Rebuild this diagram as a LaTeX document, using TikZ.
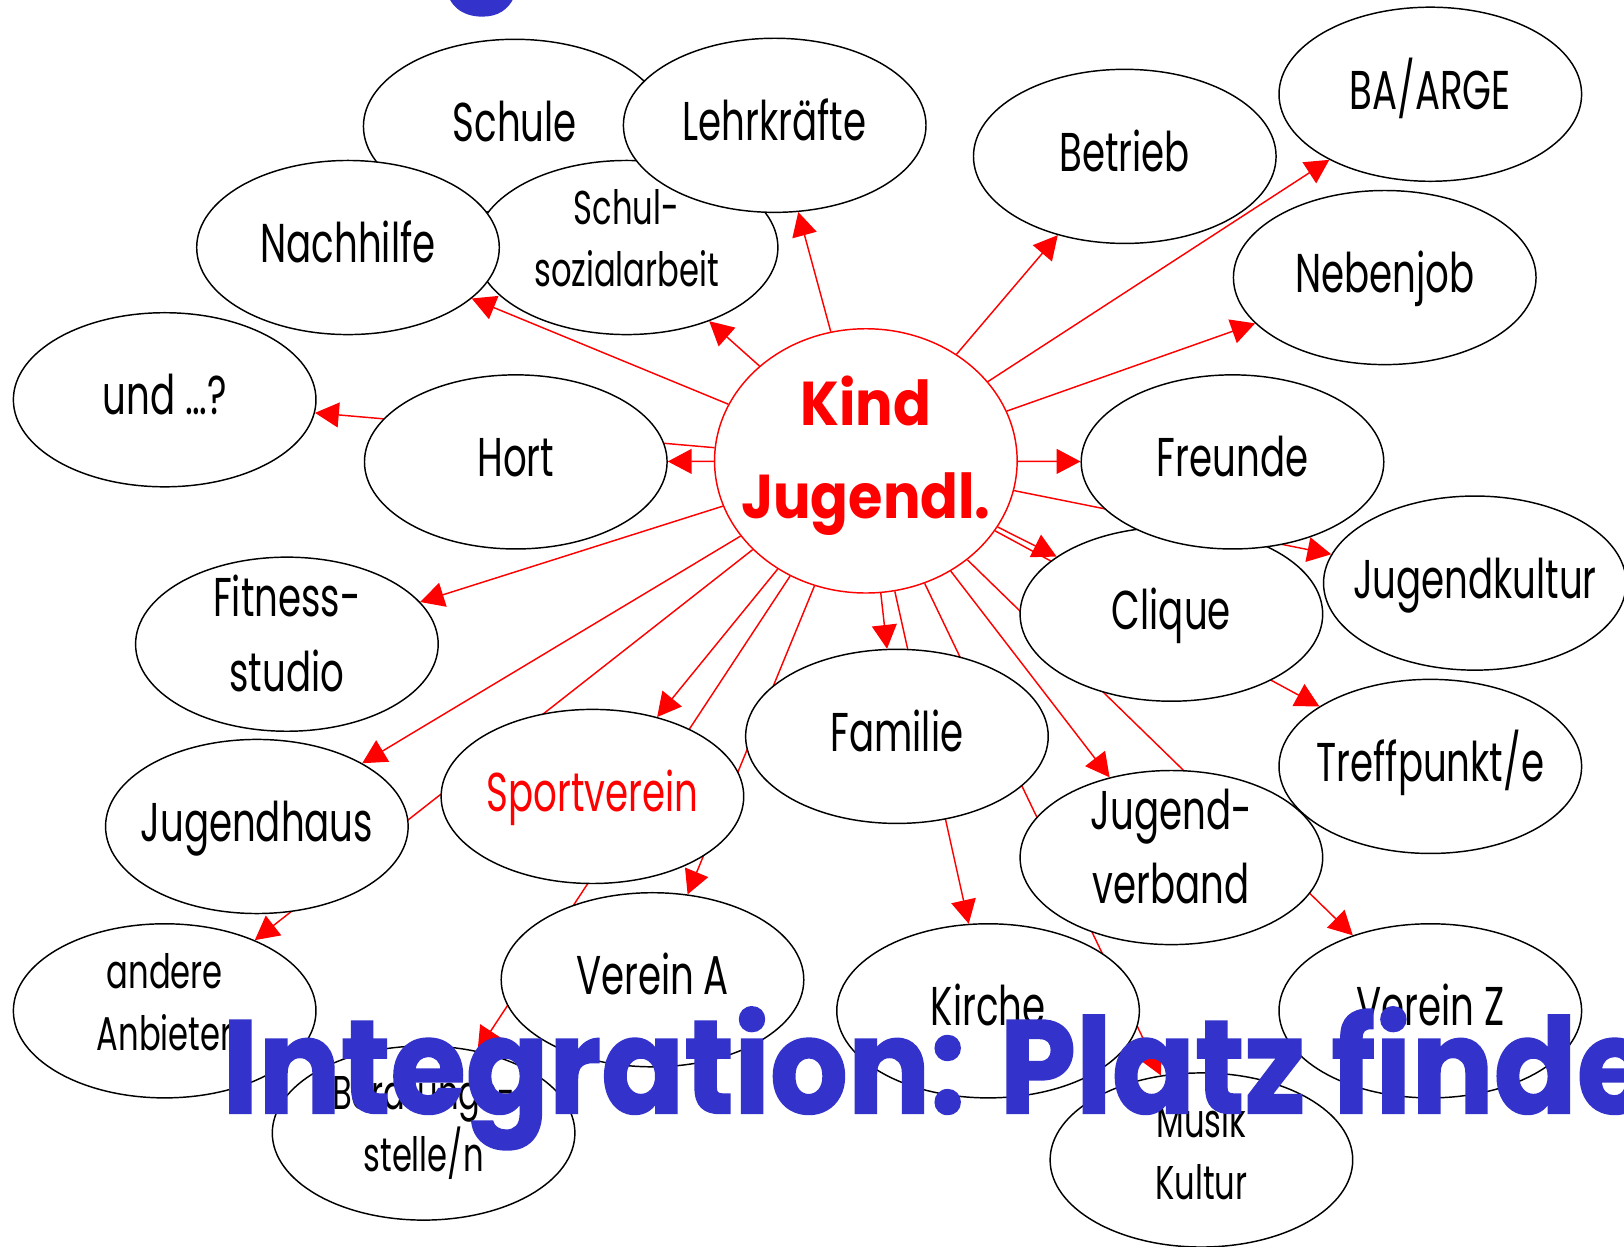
\documentclass[tikz,border=0pt]{standalone}
\usepackage{fontspec}
\usepackage{tikz}
\usetikzlibrary{shapes.geometric}
\usetikzlibrary{arrows.meta}
\usetikzlibrary{backgrounds}
\newfontfamily\lblfont{Poppins}[FakeStretch=0.68]
\newfontfamily\kindfont{Poppins}[FakeStretch=0.9]
\newfontfamily\headfont{Poppins}[FakeStretch=0.92, BoldFeatures={FakeBold=1.2}]
\definecolor{title_blue}{RGB}{51,51,204}
\tikzset{my_map/.style={x=0.01cm,y=-0.01cm}}
\tikzset{my_blob/.style={ellipse, draw, fill=white, line width=0.4pt, minimum width=2.92cm, minimum height=1.68cm, inner xsep=-5mm, inner ysep=-3mm, align=center, font=\lblfont\fontsize{15}{20.5}\selectfont, execute at begin node=\strut, execute at end node=\strut}}
\tikzset{my_small/.style={font=\lblfont\fontsize{13}{17}\selectfont}}
\tikzset{my_link/.style={red, line width=0.4pt, -{Triangle[length=2.3mm,width=2.4mm]}}}
\tikzset{my_title/.style={inner sep=0pt, text=title_blue, font=\headfont\bfseries\fontsize{36.5}{40}\selectfont}}

\begin{document}
\begin{tikzpicture}[my_map]
    \useasboundingbox (0,0) rectangle (1568,1204);
    \clip (0,0) rectangle (1568,1204);
    % upper left group, back to front
    \node[my_blob] (schule) at (497,122) {Schule};
    \node[my_blob, my_small] (schulsoz) at (605,239) {Schul-\\sozialarbeit};
    \node[my_blob] (nachhilfe) at (336,239) {Nachhilfe};
    \node[my_blob] (lehr) at (748,121) {Lehrkräfte};
    \node[my_blob] (betrieb) at (1086,151) {Betrieb};
    \node[my_blob] (ba) at (1381,91) {BA/ARGE};
    \node[my_blob] (nebenjob) at (1337,268) {Nebenjob};
    \node[my_blob] (und) at (159,386) {und …?};
    \node[my_blob] (hort) at (498,446) {Hort};
    \node[my_blob] (clique) at (1131,593) {Clique};
    \node[my_blob] (freunde) at (1190,446) {Freunde};
    \node[my_blob] (jkultur) at (1424,563) {Jugendkultur};
    \node[my_blob] (fitness) at (277,622) {Fitness-\\studio};
    \node[my_blob] (familie) at (866,711) {Familie};
    \node[my_blob] (treff) at (1381,740) {Treffpunkt/e};
    \node[my_blob] (jhaus) at (248,798) {Jugendhaus};
    \node[my_blob, text=red] (sport) at (572,769) {Sportverein};
    \node[my_blob] (jverband) at (1131,828) {Jugend-\\verband};
    \node[my_blob, my_small] (andere) at (159,976) {andere\\Anbieter};
    \node[my_blob] (vereina) at (630,946) {Verein A};
    \node[my_blob] (kirche) at (954,976) {Kirche};
    \node[my_blob] (vereinz) at (1381,976) {Verein Z};
    \node[my_blob, my_small] (beratung) at (409,1094) {Beratungs-\\stelle/n};
    \node[my_blob, my_small] (musik) at (1160,1120) {Musik\\Kultur};
    \node[my_blob, draw=red, minimum height=2.55cm, text=red,
          font=\kindfont\bfseries\fontsize{17}{25.6}\selectfont] (kind) at (836,445) {Kind\\Jugendl.};

    \begin{pgfonlayer}{background}
    \fill[white] (0,0) rectangle (1568,1204);
    \path[my_link]
        (kind) edge (lehr)
        (kind) edge (schulsoz)
        (kind) edge (nachhilfe)
        (kind) edge (und)
        (kind) edge (hort)
        (kind) edge (fitness)
        (kind) edge (jhaus)
        (kind) edge (andere)
        (kind) edge (sport)
        (kind) edge (beratung)
        (kind) edge (vereina)
        (kind) edge (familie)
        (kind) edge (kirche)
        (kind) edge (musik)
        (kind) edge (jverband)
        (kind) edge (vereinz)
        (kind) edge (treff)
        (kind) edge (clique)
        (kind) edge (jkultur)
        (kind) edge (freunde)
        (kind) edge (nebenjob)
        (kind) edge (ba)
        (kind) edge (betrieb)
    ;
    \end{pgfonlayer}

    % slide titles
    \node[my_title, anchor=base] (topg) at (466,-20) {g};
    \node[my_title, anchor=base west] (title) at (214,1075) {Integration: Platz finden};
\end{tikzpicture}
\end{document}
